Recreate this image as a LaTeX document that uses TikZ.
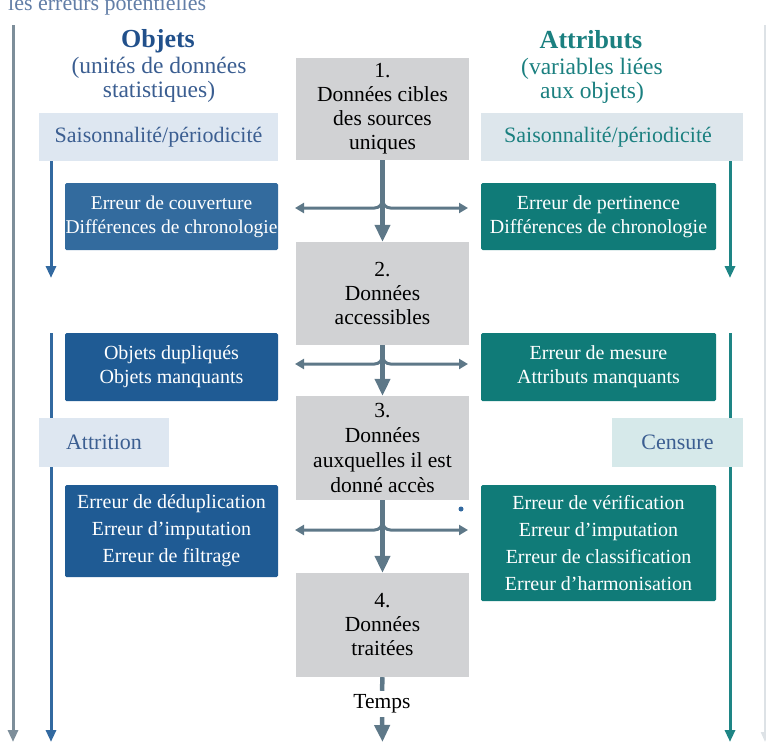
\documentclass[tikz,border=0pt]{standalone}
\usepackage{fontspec}
\setmainfont{Liberation Serif}
\usetikzlibrary{arrows.meta,calc}
\definecolor{boxgrey}{HTML}{D1D2D4}
\definecolor{lightblue}{HTML}{DEE7F1}
\definecolor{lightteal}{HTML}{D6E9EA}
\definecolor{lightteal2}{HTML}{DDE6EC}
\definecolor{txtblue}{HTML}{3B5E91}
\definecolor{txtteal}{HTML}{1B8080}
\definecolor{titleblue}{HTML}{21508B}
\definecolor{boxblueA}{HTML}{336B9E}
\definecolor{boxblueB}{HTML}{1F5B94}
\definecolor{boxteal}{HTML}{107B78}
\definecolor{lineblue}{HTML}{3269A0}
\definecolor{lineteal}{HTML}{1E8585}
\definecolor{arrowc}{HTML}{5E7888}
\definecolor{outerc}{HTML}{7D8E9A}
\definecolor{outerfaint}{HTML}{DDE2E6}
\pgfdeclarelayer{bg}
\pgfsetlayers{bg,main}
\tikzset{
  greybox/.style={fill=boxgrey, inner sep=0pt, minimum width=173pt, align=center,
    font=\fontsize{21.5}{24}\selectfont, text=black},
  lightbox/.style={inner sep=0pt, minimum height=48pt, align=center,
    font=\fontsize{22}{24}\selectfont},
  errbox/.style={inner sep=0pt, rounded corners=1.5pt, align=center, text=white,
    font=\fontsize{20}{24}\selectfont},
  vline/.style={draw=arrowc, line width=4.5pt, -{Triangle[width=15pt,length=17pt]}},
  hline/.style={draw=arrowc, line width=3pt, rounded corners=8pt, -{Triangle[width=10pt,length=9pt]}},
  sideblue/.style={draw=lineblue, line width=3pt, -{Triangle[width=10pt,length=12pt]}},
  sideteal/.style={draw=lineteal, line width=3pt, -{Triangle[width=10pt,length=12pt]}},
}
\begin{document}
\begin{tikzpicture}[x=1pt,y=-1pt]
\useasboundingbox (0,0) rectangle (766,742);

% top caption, clipped by the page edge as in the reference
\node[anchor=base west, inner sep=0pt, text=txtblue!80, font=\fontsize{22}{24}\selectfont] (cap) at (8,10) {les erreurs potentielles};

% titles
\node[anchor=base, inner sep=0pt, text=titleblue, font=\fontsize{26}{28}\selectfont\bfseries] (tobj) at (158,47) {Objets};
\node[inner sep=0pt, align=center, text=txtblue, font=\fontsize{23.5}{24}\selectfont] (sobj) at (159,80) {(unités de données\\statistiques)};
\node[anchor=base, inner sep=0pt, text=txtteal, font=\fontsize{26}{28}\selectfont\bfseries] (tatt) at (591,48) {Attributs};
\node[inner sep=0pt, align=center, text=txtteal, font=\fontsize{23.5}{24}\selectfont] (satt) at (592,81) {(variables liées\\aux objets)};

% central grey boxes
\node[greybox, minimum height=102pt] (b1) at (382.5,109) {1.\\Données cibles\\des sources\\uniques};
\node[greybox, minimum height=103pt] (b2) at (382.5,293.5) {2.\\Données\\accessibles};
\node[greybox, minimum height=104pt, font=\fontsize{21.5}{25}\selectfont] (b3) at (382.5,448) {3.\\Données\\auxquelles il est\\donné accès};
\node[greybox, minimum height=104pt] (b4) at (382.5,625) {4.\\Données\\traitées};
\node[inner sep=0pt, minimum height=26pt, font=\fontsize{21.5}{24}\selectfont] (temps) at (382,704) {Temps};

% light boxes
\node[lightbox, fill=lightblue, minimum width=239pt, text=txtblue] (satL) at (158.5,137) {Saisonnalité/périodicité};
\node[lightbox, fill=lightteal2, minimum width=262pt, text=txtteal] (satR) at (612,137) {\hspace*{-8pt}Saisonnalité/périodicité};
\node[lightbox, fill=lightblue, minimum width=130pt, minimum height=49pt, text=txtblue] (attr) at (104,442.5) {Attrition};
\node[lightbox, fill=lightteal, minimum width=131pt, minimum height=49pt, text=txtblue] (cens) at (677.5,442.5) {Censure};

% error boxes
\node[errbox, fill=boxblueA, minimum width=213pt, minimum height=67pt, font=\fontsize{19.5}{24}\selectfont] (covL) at (171.5,216.5) {Erreur de couverture\\Différences de chronologie};
\node[errbox, fill=boxteal, minimum width=235pt, minimum height=67pt] (covR) at (598.5,216.5) {Erreur de pertinence\\Différences de chronologie};
\node[errbox, fill=boxblueB, minimum width=213pt, minimum height=68pt] (dupL) at (171.5,367) {Objets dupliqués\\Objets manquants};
\node[errbox, fill=boxteal, minimum width=235pt, minimum height=68pt] (mesR) at (598.5,367) {Erreur de mesure\\Attributs manquants};
\node[errbox, fill=boxblueB, minimum width=213pt, minimum height=92pt, font=\fontsize{20}{27}\selectfont] (dedL) at (171.5,531) {Erreur de déduplication\\Erreur d’imputation\\Erreur de filtrage};
\node[errbox, fill=boxteal, minimum width=235pt, minimum height=116pt, font=\fontsize{20}{26.7}\selectfont] (verR) at (598.5,543) {Erreur de vérification\\Erreur d’imputation\\Erreur de classification\\Erreur d’harmonisation};

% coordinates for free ends
\coordinate (oL1) at (13,25);   \coordinate (oL2) at (13,742);
\coordinate (oR1) at (765,25);  \coordinate (oR2) at (765,742);
\coordinate (bA1) at (51,161);  \coordinate (bA2) at (51,278);
\coordinate (bB1) at (51,333);  \coordinate (bB2) at (51,742);
\coordinate (tA1) at (730,161); \coordinate (tA2) at (730,278);
\coordinate (tB1) at (730,333); \coordinate (tB2) at (730,742);
\coordinate (l1) at (295,208);  \coordinate (r1) at (468,208);
\coordinate (l2) at (295,364);  \coordinate (r2) at (468,364);
\coordinate (l3) at (295,530);  \coordinate (r3) at (468,530);
\coordinate (bot) at (382.5,742);

\begin{pgfonlayer}{bg}
  % outer lines
  \draw[draw=outerc, line width=3pt, -{Triangle[width=10pt,length=12pt]}] (oL1) -- (oL2);
  \draw[draw=outerfaint, line width=2pt, -{Triangle[width=8pt,length=10pt]}] (oR1) -- (oR2);
  % side lines
  \draw[sideblue] (bA1) -- (bA2);
  \draw[sideblue] (bB1) -- (bB2);
  \draw[sideteal] (tA1) -- (tA2);
  \draw[sideteal] (tB1) -- (tB2);
  % central flow
  \draw[vline] (b1.south) -- (b2.north);
  \draw[vline] (b2.south) -- (b3.north);
  \draw[vline] (b3.south) -- (b4.north);
  \draw[draw=arrowc, line width=4.5pt] (b4.south) -- (temps.north);
  \draw[vline] (temps.south) -- (bot);
  % branches
  \draw[hline] ($(b1.south)+(0,34)$) |- (l1);
  \draw[hline] ($(b1.south)+(0,34)$) |- (r1);
  \draw[hline] ($(b2.south)+(0,6)$) |- (l2);
  \draw[hline] ($(b2.south)+(0,6)$) |- (r2);
  \draw[hline] ($(b3.south)+(0,16)$) |- (l3);
  \draw[hline] ($(b3.south)+(0,16)$) |- (r3);
\end{pgfonlayer}

% small dot
\fill[lineblue] (461,509) circle (2.5pt);
\end{tikzpicture}
\end{document}
